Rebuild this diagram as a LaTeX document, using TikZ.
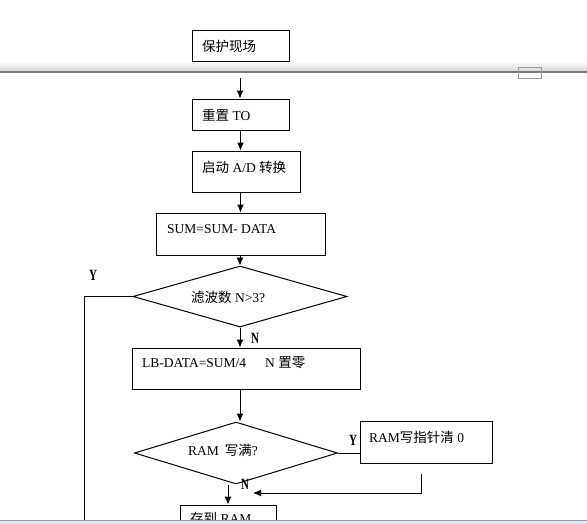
\documentclass[tikz,border=0pt]{standalone}
\usepackage{fontspec}
\usepackage{graphicx}
\setmainfont{Liberation Serif}
\newfontfamily\cjk{Noto Sans CJK SC}
\usetikzlibrary{shapes.geometric,arrows.meta,calc}
\definecolor{barline}{RGB}{140,152,172}
\definecolor{barfill}{RGB}{226,232,240}
\definecolor{pagegray}{RGB}{120,120,120}
\tikzset{
  box/.style={draw=black,line width=1pt,rectangle,inner sep=0pt},
  dia/.style={draw=black,line width=1pt,diamond,inner sep=0pt},
  txt/.style={anchor=west,inner sep=0pt,font=\fontsize{13.5}{16}\selectfont},
  yn/.style={inner sep=0pt,font=\fontsize{13}{15}\selectfont\bfseries},
  arr/.style={line width=1pt,-{Latex[length=8pt,width=7pt]}},
  ln/.style={line width=1pt}
}
\newcommand{\yntext}[1]{\scalebox{0.85}[1.2]{#1}}
\begin{document}
\begin{tikzpicture}[x=1pt,y=-1pt]
\useasboundingbox (0,0) rectangle (587,523);
% page break band
\shade[top color=white,bottom color=gray!35] (0,61) rectangle (587,72);
\draw[pagegray,line width=1.4pt] (0,72) -- (587,72);
\draw[gray!80,line width=0.8pt] (518,67) rectangle (541,78);
% boxes
\node[box,minimum width=97pt,minimum height=31pt] (b1) at (240.5,45.5) {};
\node[txt] (t1) at (202,46) {\cjk 保护现场};
\node[box,minimum width=97pt,minimum height=31pt] (b2) at (240.5,114.5) {};
\node[txt] (t2) at (202,115) {{\cjk 重置} TO};
\node[box,minimum width=108pt,minimum height=41pt] (b3) at (246,171.5) {};
\node[txt] (t3) at (202,167) {{\cjk 启动} A/D {\cjk 转换}};
\node[box,minimum width=169pt,minimum height=42pt] (b4) at (240.5,234) {};
\node[txt] (t4) at (167,229) {SUM=SUM- DATA};
\node[dia,minimum width=214pt,minimum height=61pt] (d1) at (240,296.5) {};
\node[txt] (t5) at (191,297) {{\cjk 滤波数} N>3?};
\node[box,minimum width=228pt,minimum height=41pt] (b5) at (246,368.5) {};
\node[txt] (t6) at (142,363) {LB-DATA=SUM/4\hspace{19pt}N {\cjk 置零}};
\node[dia,minimum width=203pt,minimum height=62pt] (d2) at (236,453) {};
\node[txt] (t7) at (188,450) {RAM\hspace{6pt}{\cjk 写满}?};
\node[box,minimum width=132pt,minimum height=42pt] (b6) at (426,442) {};
\node[txt] (t8) at (369,437) {RAM{\cjk 写指针清} 0};
\node[box,minimum width=96pt,minimum height=40pt] (b7) at (228,525) {};
\node[txt] (t9) at (190,518) {{\cjk 存到} RAM};
% labels
\node[yn] (y1) at (93,275) {\yntext{Y}};
\node[yn] (n1) at (255,338) {\yntext{N}};
\node[yn] (y2) at (353,440) {\yntext{Y}};
\node[yn] (n2) at (245,484) {\yntext{N}};
% connectors
\coordinate (a0) at (240,78);
\draw[arr] (a0) -- (a0 |- b2.north);
\draw[arr] (b2.south) -- (b2.south |- b3.north);
\draw[arr] (b2.south |- b3.south) -- (b2.south |- b4.north);
\draw[arr] (d1.north |- b4.south) -- (d1.north);
\draw[arr] (d1.south) -- (d1.south |- b5.north);
\coordinate (lp) at (84,523);
\draw[ln] (d1.west) -| (lp);
\draw[arr] (d1.south |- b5.south) -- (d1.south |- d2.north);
\draw[ln] (d2.east) -- (d2.east -| b6.west);
\draw[arr] (d2.south -| b7.north) -- (b7.north);
\coordinate (r1) at (421,474);
\coordinate (r2) at (253,493);
\draw[arr] (r1) |- (r2);
% bottom bar
\fill[barfill] (-2,520.5) rectangle (589,530);
\draw[barline,line width=1.2pt] (-2,520.5) -- (589,520.5);
\end{tikzpicture}
\end{document}
